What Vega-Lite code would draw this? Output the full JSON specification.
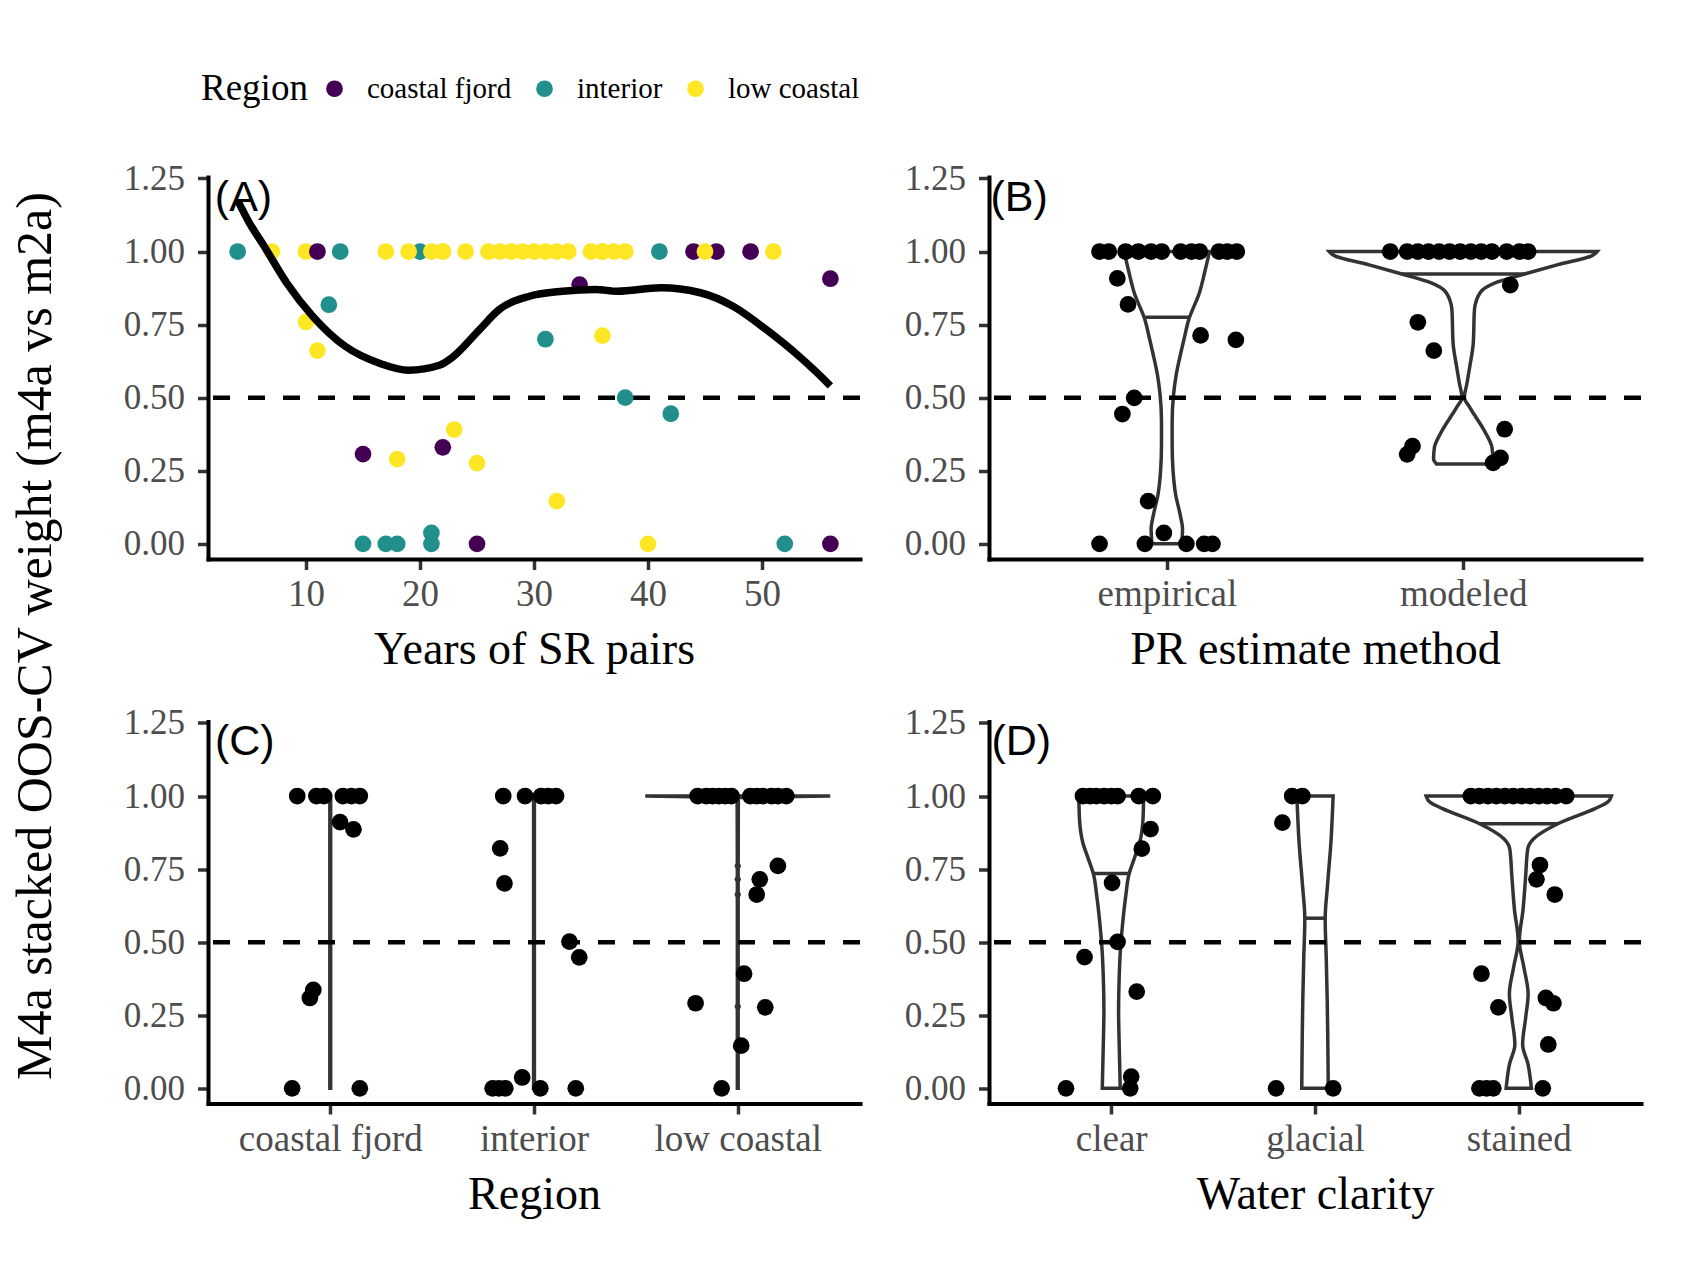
{
  "$schema": "https://vega.github.io/schema/vega-lite/v6.json",
  "background": "white",
  "padding": {"left": 10, "top": 74, "right": 5, "bottom": 5},
  "config": {
    "view": {"stroke": null},
    "font": "Liberation Serif",
    "axis": {
      "grid": false,
      "domainColor": "black",
      "domainWidth": 4,
      "domainCap": "square",
      "tickColor": "#333333",
      "tickWidth": 3.5,
      "tickSize": 10.5,
      "labelFont": "Liberation Serif",
      "labelFontSize": 35,
      "labelColor": "#4D4D4D",
      "labelPadding": 10,
      "labelFlush": false,
      "labelOverlap": false,
      "labelLimit": 0,
      "titleFont": "Liberation Serif",
      "titleFontSize": 46,
      "titleFontWeight": "normal",
      "titleColor": "black",
      "titlePadding": 15
    },
    "axisX": {"labelFontSize": 37, "labelPadding": 7},
    "axisY": {"labelPadding": 13},
    "legend": {
      "titleFont": "Liberation Serif",
      "titleFontSize": 37,
      "titleFontWeight": "normal",
      "titleColor": "black",
      "labelFont": "Liberation Serif",
      "labelFontSize": 29,
      "labelColor": "black"
    }
  },
  "datasets": {
    "years": [
      {"region": "interior", "years": 4, "w": 1},
      {"region": "interior", "years": 13, "w": 1},
      {"region": "interior", "years": 20, "w": 1},
      {"region": "interior", "years": 41, "w": 1},
      {"region": "low coastal", "years": 7, "w": 1},
      {"region": "low coastal", "years": 10, "w": 1},
      {"region": "coastal fjord", "years": 11, "w": 1},
      {"region": "low coastal", "years": 17, "w": 1},
      {"region": "low coastal", "years": 19, "w": 1},
      {"region": "low coastal", "years": 21, "w": 1},
      {"region": "low coastal", "years": 22, "w": 1},
      {"region": "low coastal", "years": 22, "w": 1},
      {"region": "low coastal", "years": 24, "w": 1},
      {"region": "low coastal", "years": 26, "w": 1},
      {"region": "low coastal", "years": 27, "w": 1},
      {"region": "low coastal", "years": 28, "w": 1},
      {"region": "low coastal", "years": 29, "w": 1},
      {"region": "low coastal", "years": 30, "w": 1},
      {"region": "low coastal", "years": 31, "w": 1},
      {"region": "low coastal", "years": 32, "w": 1},
      {"region": "low coastal", "years": 33, "w": 1},
      {"region": "low coastal", "years": 35, "w": 1},
      {"region": "low coastal", "years": 36, "w": 1},
      {"region": "low coastal", "years": 36, "w": 1},
      {"region": "low coastal", "years": 37, "w": 1},
      {"region": "low coastal", "years": 38, "w": 1},
      {"region": "coastal fjord", "years": 44, "w": 1},
      {"region": "coastal fjord", "years": 46, "w": 1},
      {"region": "low coastal", "years": 45, "w": 1},
      {"region": "coastal fjord", "years": 49, "w": 1},
      {"region": "low coastal", "years": 51, "w": 1},
      {"region": "coastal fjord", "years": 56, "w": 0.907},
      {"region": "coastal fjord", "years": 34, "w": 0.887},
      {"region": "interior", "years": 12, "w": 0.818},
      {"region": "low coastal", "years": 10, "w": 0.759},
      {"region": "low coastal", "years": 11, "w": 0.661},
      {"region": "interior", "years": 31, "w": 0.7},
      {"region": "low coastal", "years": 36, "w": 0.712},
      {"region": "interior", "years": 38, "w": 0.5},
      {"region": "interior", "years": 42, "w": 0.445},
      {"region": "coastal fjord", "years": 15, "w": 0.307},
      {"region": "low coastal", "years": 18, "w": 0.29},
      {"region": "coastal fjord", "years": 22, "w": 0.33},
      {"region": "low coastal", "years": 23, "w": 0.391},
      {"region": "low coastal", "years": 25, "w": 0.276},
      {"region": "low coastal", "years": 32, "w": 0.146},
      {"region": "interior", "years": 15, "w": 0},
      {"region": "interior", "years": 17, "w": 0},
      {"region": "interior", "years": 18, "w": 0},
      {"region": "interior", "years": 21, "w": 0},
      {"region": "interior", "years": 21, "w": 0.037},
      {"region": "coastal fjord", "years": 25, "w": 0},
      {"region": "low coastal", "years": 40, "w": 0},
      {"region": "interior", "years": 52, "w": 0},
      {"region": "coastal fjord", "years": 56, "w": 0}
    ],
    "loess": [
      {"years": 4, "fit": 1.175},
      {"years": 5, "fit": 1.1},
      {"years": 6.3, "fit": 1.02},
      {"years": 8.3, "fit": 0.893},
      {"years": 10.6, "fit": 0.778},
      {"years": 13.5, "fit": 0.674},
      {"years": 16.5, "fit": 0.617},
      {"years": 19, "fit": 0.594},
      {"years": 21.7, "fit": 0.611},
      {"years": 22.9, "fit": 0.64},
      {"years": 25.2, "fit": 0.732},
      {"years": 26.9, "fit": 0.8},
      {"years": 29.6, "fit": 0.847},
      {"years": 32.5, "fit": 0.864},
      {"years": 35.4, "fit": 0.87},
      {"years": 37.3, "fit": 0.864},
      {"years": 41.1, "fit": 0.876},
      {"years": 44.6, "fit": 0.859},
      {"years": 47.5, "fit": 0.812},
      {"years": 50.4, "fit": 0.732},
      {"years": 53.3, "fit": 0.64},
      {"years": 55.5, "fit": 0.56},
      {"years": 56, "fit": 0.54}
    ],
    "method_pts": [
      {"method": "empirical", "x": 0.773, "w": 1},
      {"method": "empirical", "x": 0.804, "w": 1},
      {"method": "empirical", "x": 0.861, "w": 1},
      {"method": "empirical", "x": 0.904, "w": 1},
      {"method": "empirical", "x": 0.947, "w": 1},
      {"method": "empirical", "x": 0.983, "w": 1},
      {"method": "empirical", "x": 1.047, "w": 1},
      {"method": "empirical", "x": 1.083, "w": 1},
      {"method": "empirical", "x": 1.111, "w": 1},
      {"method": "empirical", "x": 1.176, "w": 1},
      {"method": "empirical", "x": 1.204, "w": 1},
      {"method": "empirical", "x": 1.236, "w": 1},
      {"method": "empirical", "x": 0.833, "w": 0.908},
      {"method": "empirical", "x": 0.869, "w": 0.819},
      {"method": "empirical", "x": 1.114, "w": 0.713},
      {"method": "empirical", "x": 1.233, "w": 0.698},
      {"method": "empirical", "x": 0.89, "w": 0.499},
      {"method": "empirical", "x": 0.85, "w": 0.444},
      {"method": "empirical", "x": 0.937, "w": 0.146},
      {"method": "empirical", "x": 0.99, "w": 0.037},
      {"method": "empirical", "x": 0.773, "w": 0},
      {"method": "empirical", "x": 0.926, "w": 0},
      {"method": "empirical", "x": 1.066, "w": 0},
      {"method": "empirical", "x": 1.126, "w": 0},
      {"method": "empirical", "x": 1.154, "w": 0},
      {"method": "modeled", "x": 1.754, "w": 1},
      {"method": "modeled", "x": 1.811, "w": 1},
      {"method": "modeled", "x": 1.847, "w": 1},
      {"method": "modeled", "x": 1.883, "w": 1},
      {"method": "modeled", "x": 1.919, "w": 1},
      {"method": "modeled", "x": 1.954, "w": 1},
      {"method": "modeled", "x": 1.99, "w": 1},
      {"method": "modeled", "x": 2.026, "w": 1},
      {"method": "modeled", "x": 2.061, "w": 1},
      {"method": "modeled", "x": 2.097, "w": 1},
      {"method": "modeled", "x": 2.147, "w": 1},
      {"method": "modeled", "x": 2.19, "w": 1},
      {"method": "modeled", "x": 2.219, "w": 1},
      {"method": "modeled", "x": 2.159, "w": 0.885},
      {"method": "modeled", "x": 1.847, "w": 0.758},
      {"method": "modeled", "x": 1.901, "w": 0.661},
      {"method": "modeled", "x": 2.14, "w": 0.392},
      {"method": "modeled", "x": 1.829, "w": 0.334},
      {"method": "modeled", "x": 1.811, "w": 0.306},
      {"method": "modeled", "x": 2.126, "w": 0.294},
      {"method": "modeled", "x": 2.101, "w": 0.277}
    ],
    "method_violin": [
      {"method": "empirical", "w": 0, "lo": 0.95, "hi": 1.05},
      {"method": "empirical", "w": 0.05, "lo": 0.947, "hi": 1.053},
      {"method": "empirical", "w": 0.1, "lo": 0.955, "hi": 1.045},
      {"method": "empirical", "w": 0.167, "lo": 0.97, "hi": 1.03},
      {"method": "empirical", "w": 0.25, "lo": 0.979, "hi": 1.021},
      {"method": "empirical", "w": 0.34, "lo": 0.982, "hi": 1.018},
      {"method": "empirical", "w": 0.42, "lo": 0.982, "hi": 1.018},
      {"method": "empirical", "w": 0.513, "lo": 0.977, "hi": 1.023},
      {"method": "empirical", "w": 0.58, "lo": 0.968, "hi": 1.032},
      {"method": "empirical", "w": 0.652, "lo": 0.953, "hi": 1.047},
      {"method": "empirical", "w": 0.7, "lo": 0.942, "hi": 1.058},
      {"method": "empirical", "w": 0.767, "lo": 0.926, "hi": 1.074},
      {"method": "empirical", "w": 0.859, "lo": 0.89, "hi": 1.11},
      {"method": "empirical", "w": 0.93, "lo": 0.872, "hi": 1.128},
      {"method": "empirical", "w": 1, "lo": 0.856, "hi": 1.144},
      {"method": "modeled", "w": 0.273, "lo": 1.91, "hi": 2.09},
      {"method": "modeled", "w": 0.29, "lo": 1.9, "hi": 2.1},
      {"method": "modeled", "w": 0.33, "lo": 1.903, "hi": 2.097},
      {"method": "modeled", "w": 0.375, "lo": 1.922, "hi": 2.078},
      {"method": "modeled", "w": 0.41, "lo": 1.942, "hi": 2.058},
      {"method": "modeled", "w": 0.444, "lo": 1.964, "hi": 2.036},
      {"method": "modeled", "w": 0.47, "lo": 1.98, "hi": 2.02},
      {"method": "modeled", "w": 0.5, "lo": 1.996, "hi": 2.004},
      {"method": "modeled", "w": 0.55, "lo": 1.987, "hi": 2.013},
      {"method": "modeled", "w": 0.605, "lo": 1.978, "hi": 2.022},
      {"method": "modeled", "w": 0.686, "lo": 1.966, "hi": 2.034},
      {"method": "modeled", "w": 0.8, "lo": 1.962, "hi": 2.038},
      {"method": "modeled", "w": 0.859, "lo": 1.943, "hi": 2.057},
      {"method": "modeled", "w": 0.895, "lo": 1.886, "hi": 2.114},
      {"method": "modeled", "w": 0.923, "lo": 1.793, "hi": 2.207},
      {"method": "modeled", "w": 0.955, "lo": 1.68, "hi": 2.32},
      {"method": "modeled", "w": 0.986, "lo": 1.565, "hi": 2.435},
      {"method": "modeled", "w": 1, "lo": 1.548, "hi": 2.452}
    ],
    "method_median": [
      {"method": "empirical", "w": 0.775, "lo": 0.927, "hi": 1.073},
      {"method": "modeled", "w": 0.923, "lo": 1.793, "hi": 2.207}
    ],
    "region_pts": [
      {"region": "coastal fjord", "x": 0.838, "w": 1},
      {"region": "coastal fjord", "x": 0.932, "w": 1},
      {"region": "coastal fjord", "x": 0.969, "w": 1},
      {"region": "coastal fjord", "x": 1.062, "w": 1},
      {"region": "coastal fjord", "x": 1.104, "w": 1},
      {"region": "coastal fjord", "x": 1.145, "w": 1},
      {"region": "coastal fjord", "x": 1.048, "w": 0.911},
      {"region": "coastal fjord", "x": 1.114, "w": 0.886},
      {"region": "coastal fjord", "x": 0.917, "w": 0.337},
      {"region": "coastal fjord", "x": 0.9, "w": 0.309},
      {"region": "coastal fjord", "x": 0.813, "w": 0},
      {"region": "coastal fjord", "x": 1.145, "w": 0},
      {"region": "interior", "x": 1.849, "w": 1},
      {"region": "interior", "x": 1.956, "w": 1},
      {"region": "interior", "x": 2.035, "w": 1},
      {"region": "interior", "x": 2.07, "w": 1},
      {"region": "interior", "x": 2.108, "w": 1},
      {"region": "interior", "x": 1.834, "w": 0.821},
      {"region": "interior", "x": 1.855, "w": 0.701},
      {"region": "interior", "x": 2.174, "w": 0.502},
      {"region": "interior", "x": 2.222, "w": 0.448},
      {"region": "interior", "x": 1.942, "w": 0.037},
      {"region": "interior", "x": 1.797, "w": 0},
      {"region": "interior", "x": 1.828, "w": 0},
      {"region": "interior", "x": 1.859, "w": 0},
      {"region": "interior", "x": 2.031, "w": 0},
      {"region": "interior", "x": 2.205, "w": 0},
      {"region": "low coastal", "x": 2.803, "w": 1},
      {"region": "low coastal", "x": 2.845, "w": 1},
      {"region": "low coastal", "x": 2.876, "w": 1},
      {"region": "low coastal", "x": 2.907, "w": 1},
      {"region": "low coastal", "x": 2.938, "w": 1},
      {"region": "low coastal", "x": 2.969, "w": 1},
      {"region": "low coastal", "x": 3.062, "w": 1},
      {"region": "low coastal", "x": 3.093, "w": 1},
      {"region": "low coastal", "x": 3.124, "w": 1},
      {"region": "low coastal", "x": 3.166, "w": 1},
      {"region": "low coastal", "x": 3.197, "w": 1},
      {"region": "low coastal", "x": 3.238, "w": 1},
      {"region": "low coastal", "x": 3.197, "w": 0.761},
      {"region": "low coastal", "x": 3.108, "w": 0.715},
      {"region": "low coastal", "x": 3.093, "w": 0.663},
      {"region": "low coastal", "x": 3.031, "w": 0.392},
      {"region": "low coastal", "x": 2.793, "w": 0.291},
      {"region": "low coastal", "x": 3.135, "w": 0.277},
      {"region": "low coastal", "x": 3.017, "w": 0.146},
      {"region": "low coastal", "x": 2.921, "w": 0}
    ],
    "region_violin": [
      {"region": "coastal fjord", "w": 0, "lo": 0.998, "hi": 1.002},
      {"region": "coastal fjord", "w": 1, "lo": 0.998, "hi": 1.002},
      {"region": "interior", "w": 0, "lo": 1.998, "hi": 2.002},
      {"region": "interior", "w": 1, "lo": 1.998, "hi": 2.002},
      {"region": "low coastal", "w": 0, "lo": 2.998, "hi": 3.002},
      {"region": "low coastal", "w": 0.272, "lo": 2.998, "hi": 3.002},
      {"region": "low coastal", "w": 0.28, "lo": 2.993, "hi": 3.007},
      {"region": "low coastal", "w": 0.288, "lo": 2.998, "hi": 3.002},
      {"region": "low coastal", "w": 0.655, "lo": 2.998, "hi": 3.002},
      {"region": "low coastal", "w": 0.663, "lo": 2.993, "hi": 3.007},
      {"region": "low coastal", "w": 0.671, "lo": 2.998, "hi": 3.002},
      {"region": "low coastal", "w": 0.707, "lo": 2.998, "hi": 3.002},
      {"region": "low coastal", "w": 0.715, "lo": 2.993, "hi": 3.007},
      {"region": "low coastal", "w": 0.723, "lo": 2.998, "hi": 3.002},
      {"region": "low coastal", "w": 0.753, "lo": 2.998, "hi": 3.002},
      {"region": "low coastal", "w": 0.761, "lo": 2.993, "hi": 3.007},
      {"region": "low coastal", "w": 0.769, "lo": 2.998, "hi": 3.002},
      {"region": "low coastal", "w": 0.995, "lo": 2.997, "hi": 3.003},
      {"region": "low coastal", "w": 1, "lo": 2.546, "hi": 3.454}
    ],
    "clarity_pts": [
      {"clarity": "clear", "x": 0.861, "w": 1},
      {"clarity": "clear", "x": 0.896, "w": 1},
      {"clarity": "clear", "x": 0.927, "w": 1},
      {"clarity": "clear", "x": 0.965, "w": 1},
      {"clarity": "clear", "x": 1, "w": 1},
      {"clarity": "clear", "x": 1.031, "w": 1},
      {"clarity": "clear", "x": 1.135, "w": 1},
      {"clarity": "clear", "x": 1.204, "w": 1},
      {"clarity": "clear", "x": 1.193, "w": 0.887},
      {"clarity": "clear", "x": 1.15, "w": 0.82},
      {"clarity": "clear", "x": 1.004, "w": 0.703},
      {"clarity": "clear", "x": 1.031, "w": 0.501},
      {"clarity": "clear", "x": 0.869, "w": 0.449},
      {"clarity": "clear", "x": 1.125, "w": 0.331},
      {"clarity": "clear", "x": 1.098, "w": 0.04},
      {"clarity": "clear", "x": 1.093, "w": 0},
      {"clarity": "clear", "x": 0.778, "w": 0},
      {"clarity": "glacial", "x": 1.888, "w": 1},
      {"clarity": "glacial", "x": 1.938, "w": 1},
      {"clarity": "glacial", "x": 1.84, "w": 0.909},
      {"clarity": "glacial", "x": 1.809, "w": 0},
      {"clarity": "glacial", "x": 2.089, "w": 0},
      {"clarity": "stained", "x": 2.765, "w": 1},
      {"clarity": "stained", "x": 2.807, "w": 1},
      {"clarity": "stained", "x": 2.849, "w": 1},
      {"clarity": "stained", "x": 2.89, "w": 1},
      {"clarity": "stained", "x": 2.932, "w": 1},
      {"clarity": "stained", "x": 2.973, "w": 1},
      {"clarity": "stained", "x": 3.015, "w": 1},
      {"clarity": "stained", "x": 3.056, "w": 1},
      {"clarity": "stained", "x": 3.098, "w": 1},
      {"clarity": "stained", "x": 3.139, "w": 1},
      {"clarity": "stained", "x": 3.181, "w": 1},
      {"clarity": "stained", "x": 3.233, "w": 1},
      {"clarity": "stained", "x": 3.104, "w": 0.764},
      {"clarity": "stained", "x": 3.087, "w": 0.715},
      {"clarity": "stained", "x": 3.177, "w": 0.663},
      {"clarity": "stained", "x": 2.817, "w": 0.392},
      {"clarity": "stained", "x": 2.9, "w": 0.277},
      {"clarity": "stained", "x": 3.133, "w": 0.309},
      {"clarity": "stained", "x": 3.17, "w": 0.291},
      {"clarity": "stained", "x": 3.145, "w": 0.15},
      {"clarity": "stained", "x": 2.807, "w": 0},
      {"clarity": "stained", "x": 2.842, "w": 0},
      {"clarity": "stained", "x": 2.875, "w": 0},
      {"clarity": "stained", "x": 3.118, "w": 0}
    ],
    "clarity_violin": [
      {"clarity": "clear", "w": 0, "lo": 0.956, "hi": 1.044},
      {"clarity": "clear", "w": 0.15, "lo": 0.961, "hi": 1.039},
      {"clarity": "clear", "w": 0.265, "lo": 0.964, "hi": 1.036},
      {"clarity": "clear", "w": 0.381, "lo": 0.961, "hi": 1.039},
      {"clarity": "clear", "w": 0.473, "lo": 0.955, "hi": 1.045},
      {"clarity": "clear", "w": 0.565, "lo": 0.944, "hi": 1.056},
      {"clarity": "clear", "w": 0.657, "lo": 0.929, "hi": 1.071},
      {"clarity": "clear", "w": 0.735, "lo": 0.912, "hi": 1.088},
      {"clarity": "clear", "w": 0.784, "lo": 0.888, "hi": 1.112},
      {"clarity": "clear", "w": 0.842, "lo": 0.86, "hi": 1.14},
      {"clarity": "clear", "w": 0.923, "lo": 0.844, "hi": 1.156},
      {"clarity": "clear", "w": 1, "lo": 0.841, "hi": 1.159},
      {"clarity": "glacial", "w": 0, "lo": 1.935, "hi": 2.065},
      {"clarity": "glacial", "w": 0.15, "lo": 1.937, "hi": 2.063},
      {"clarity": "glacial", "w": 0.3, "lo": 1.94, "hi": 2.06},
      {"clarity": "glacial", "w": 0.45, "lo": 1.945, "hi": 2.055},
      {"clarity": "glacial", "w": 0.58, "lo": 1.95, "hi": 2.05},
      {"clarity": "glacial", "w": 0.7, "lo": 1.938, "hi": 2.062},
      {"clarity": "glacial", "w": 0.84, "lo": 1.922, "hi": 2.078},
      {"clarity": "glacial", "w": 1, "lo": 1.911, "hi": 2.089},
      {"clarity": "stained", "w": 0, "lo": 2.938, "hi": 3.062},
      {"clarity": "stained", "w": 0.081, "lo": 2.954, "hi": 3.046},
      {"clarity": "stained", "w": 0.15, "lo": 2.981, "hi": 3.019},
      {"clarity": "stained", "w": 0.242, "lo": 2.966, "hi": 3.034},
      {"clarity": "stained", "w": 0.323, "lo": 2.954, "hi": 3.046},
      {"clarity": "stained", "w": 0.415, "lo": 2.975, "hi": 3.025},
      {"clarity": "stained", "w": 0.504, "lo": 2.997, "hi": 3.003},
      {"clarity": "stained", "w": 0.611, "lo": 2.979, "hi": 3.021},
      {"clarity": "stained", "w": 0.727, "lo": 2.966, "hi": 3.034},
      {"clarity": "stained", "w": 0.819, "lo": 2.956, "hi": 3.044},
      {"clarity": "stained", "w": 0.853, "lo": 2.928, "hi": 3.072},
      {"clarity": "stained", "w": 0.905, "lo": 2.808, "hi": 3.192},
      {"clarity": "stained", "w": 0.957, "lo": 2.626, "hi": 3.374},
      {"clarity": "stained", "w": 0.979, "lo": 2.564, "hi": 3.436},
      {"clarity": "stained", "w": 1, "lo": 2.545, "hi": 3.455}
    ],
    "clarity_median": [
      {"clarity": "clear", "w": 0.735, "lo": 0.912, "hi": 1.088},
      {"clarity": "glacial", "w": 0.582, "lo": 1.951, "hi": 2.049},
      {"clarity": "stained", "w": 0.905, "lo": 2.808, "hi": 3.192}
    ]
  },
  "hconcat": [
    {
      "width": 50,
      "height": 918,
      "data": {"values": [{"t": "M4a stacked OOS-CV weight (m4a vs m2a)"}]},
      "mark": {"type": "text", "angle": 270, "font": "Liberation Serif", "fontSize": 50, "color": "black"},
      "encoding": {"text": {"field": "t"}}
    },
    {
      "vconcat": [
        {
          "hconcat": [
            {
              "width": 652,
              "height": 382,
              "layer": [
                {
                  "data": {"values": [{}]},
                  "mark": {"type": "rule", "color": "black", "strokeWidth": 4.5, "strokeDash": [17, 18]},
                  "encoding": {"y": {"datum": 0.5}}
                },
                {
                  "data": {"name": "years"},
                  "mark": {"type": "point", "filled": true, "size": 280, "opacity": 1, "strokeWidth": 0},
                  "encoding": {
                    "x": {"field": "years", "type": "quantitative", "scale": {"domain": [1.4, 58.6], "nice": false, "zero": false}, "axis": {"values": [10, 20, 30, 40, 50], "format": "d", "title": "Years of SR pairs"}},
                    "y": {"field": "w", "type": "quantitative", "scale": {"domain": [-0.052, 1.255], "nice": false, "zero": false}, "axis": {"values": [0, 0.25, 0.5, 0.75, 1, 1.25], "format": ".2f", "title": null}},
                    "color": {
                      "field": "region",
                      "type": "nominal",
                      "scale": {"domain": ["coastal fjord", "interior", "low coastal"], "range": ["#440154", "#21908C", "#FDE725"]},
                      "legend": {
                        "title": "Region",
                        "orient": "none",
                        "legendX": 190,
                        "legendY": -103,
                        "direction": "horizontal",
                        "titleOrient": "left",
                        "titlePadding": 12,
                        "labelOffset": 18,
                        "columnPadding": 18,
                        "symbolSize": 280,
                        "symbolType": "circle",
                        "symbolStrokeWidth": 0
                      }
                    }
                  }
                },
                {
                  "data": {"name": "loess"},
                  "mark": {"type": "line", "color": "black", "strokeWidth": 7.5, "interpolate": "monotone"},
                  "encoding": {
                    "x": {"field": "years", "type": "quantitative"},
                    "y": {"field": "fit", "type": "quantitative"}
                  }
                },
                {
                  "data": {"values": [{}]},
                  "mark": {"type": "text", "text": "(A)", "font": "Liberation Sans", "fontSize": 43, "align": "left", "baseline": "alphabetic", "color": "black"},
                  "encoding": {"x": {"datum": 2.0}, "y": {"datum": 1.14}}
                }
              ]
            },
            {
              "width": 652,
              "height": 382,
              "layer": [
                {
                  "data": {"name": "method_violin"},
                  "mark": {"type": "area", "orient": "horizontal", "fill": "white", "stroke": "#333333", "strokeWidth": 3.5, "interpolate": "monotone"},
                  "encoding": {
                    "y": {"field": "w", "type": "quantitative", "scale": {"domain": [-0.052, 1.255], "nice": false, "zero": false}, "axis": {"values": [0, 0.25, 0.5, 0.75, 1, 1.25], "format": ".2f", "title": null}},
                    "x": {"field": "lo", "type": "quantitative", "scale": {"domain": [0.4, 2.6], "nice": false, "zero": false}, "axis": {"values": [1, 2], "labelExpr": "datum.value == 1 ? 'empirical' : 'modeled'", "title": "PR estimate method"}},
                    "x2": {"field": "hi"},
                    "detail": {"field": "method"}
                  }
                },
                {
                  "data": {"name": "method_median"},
                  "mark": {"type": "rule", "color": "#333333", "strokeWidth": 3.5},
                  "encoding": {
                    "y": {"field": "w", "type": "quantitative"},
                    "x": {"field": "lo", "type": "quantitative"},
                    "x2": {"field": "hi"}
                  }
                },
                {
                  "data": {"values": [{}]},
                  "mark": {"type": "rule", "color": "black", "strokeWidth": 4.5, "strokeDash": [17, 18]},
                  "encoding": {"y": {"datum": 0.5}}
                },
                {
                  "data": {"name": "method_pts"},
                  "mark": {"type": "point", "filled": true, "size": 280, "opacity": 1, "strokeWidth": 0, "color": "black"},
                  "encoding": {
                    "x": {"field": "x", "type": "quantitative"},
                    "y": {"field": "w", "type": "quantitative"}
                  }
                },
                {
                  "data": {"values": [{}]},
                  "mark": {"type": "text", "text": "(B)", "font": "Liberation Sans", "fontSize": 43, "align": "left", "baseline": "alphabetic", "color": "black"},
                  "encoding": {"x": {"datum": 0.405}, "y": {"datum": 1.14}}
                }
              ]
            }
          ],
          "spacing": 41
        },
        {
          "hconcat": [
            {
              "width": 652,
              "height": 382,
              "layer": [
                {
                  "data": {"name": "region_violin"},
                  "mark": {"type": "area", "orient": "horizontal", "fill": "white", "stroke": "#333333", "strokeWidth": 3.5, "interpolate": "linear"},
                  "encoding": {
                    "y": {"field": "w", "type": "quantitative", "scale": {"domain": [-0.052, 1.255], "nice": false, "zero": false}, "axis": {"values": [0, 0.25, 0.5, 0.75, 1, 1.25], "format": ".2f", "title": null}},
                    "x": {"field": "lo", "type": "quantitative", "scale": {"domain": [0.4, 3.6], "nice": false, "zero": false}, "axis": {"values": [1, 2, 3], "labelExpr": "datum.value == 1 ? 'coastal fjord' : datum.value == 2 ? 'interior' : 'low coastal'", "title": "Region"}},
                    "x2": {"field": "hi"},
                    "detail": {"field": "region"}
                  }
                },
                {
                  "data": {"values": [{}]},
                  "mark": {"type": "rule", "color": "black", "strokeWidth": 4.5, "strokeDash": [17, 18]},
                  "encoding": {"y": {"datum": 0.5}}
                },
                {
                  "data": {"name": "region_pts"},
                  "mark": {"type": "point", "filled": true, "size": 280, "opacity": 1, "strokeWidth": 0, "color": "black"},
                  "encoding": {
                    "x": {"field": "x", "type": "quantitative"},
                    "y": {"field": "w", "type": "quantitative"}
                  }
                },
                {
                  "data": {"values": [{}]},
                  "mark": {"type": "text", "text": "(C)", "font": "Liberation Sans", "fontSize": 43, "align": "left", "baseline": "alphabetic", "color": "black"},
                  "encoding": {"x": {"datum": 0.434}, "y": {"datum": 1.14}}
                }
              ]
            },
            {
              "width": 652,
              "height": 382,
              "layer": [
                {
                  "data": {"name": "clarity_violin"},
                  "mark": {"type": "area", "orient": "horizontal", "fill": "white", "stroke": "#333333", "strokeWidth": 3.5, "interpolate": "monotone"},
                  "encoding": {
                    "y": {"field": "w", "type": "quantitative", "scale": {"domain": [-0.052, 1.255], "nice": false, "zero": false}, "axis": {"values": [0, 0.25, 0.5, 0.75, 1, 1.25], "format": ".2f", "title": null}},
                    "x": {"field": "lo", "type": "quantitative", "scale": {"domain": [0.4, 3.6], "nice": false, "zero": false}, "axis": {"values": [1, 2, 3], "labelExpr": "datum.value == 1 ? 'clear' : datum.value == 2 ? 'glacial' : 'stained'", "title": "Water clarity"}},
                    "x2": {"field": "hi"},
                    "detail": {"field": "clarity"}
                  }
                },
                {
                  "data": {"name": "clarity_median"},
                  "mark": {"type": "rule", "color": "#333333", "strokeWidth": 3.5},
                  "encoding": {
                    "y": {"field": "w", "type": "quantitative"},
                    "x": {"field": "lo", "type": "quantitative"},
                    "x2": {"field": "hi"}
                  }
                },
                {
                  "data": {"values": [{}]},
                  "mark": {"type": "rule", "color": "black", "strokeWidth": 4.5, "strokeDash": [17, 18]},
                  "encoding": {"y": {"datum": 0.5}}
                },
                {
                  "data": {"name": "clarity_pts"},
                  "mark": {"type": "point", "filled": true, "size": 280, "opacity": 1, "strokeWidth": 0, "color": "black"},
                  "encoding": {
                    "x": {"field": "x", "type": "quantitative"},
                    "y": {"field": "w", "type": "quantitative"}
                  }
                },
                {
                  "data": {"values": [{}]},
                  "mark": {"type": "text", "text": "(D)", "font": "Liberation Sans", "fontSize": 43, "align": "left", "baseline": "alphabetic", "color": "black"},
                  "encoding": {"x": {"datum": 0.412}, "y": {"datum": 1.14}}
                }
              ]
            }
          ],
          "spacing": 41
        }
      ],
      "spacing": 32.5
    }
  ],
  "spacing": 61
}
